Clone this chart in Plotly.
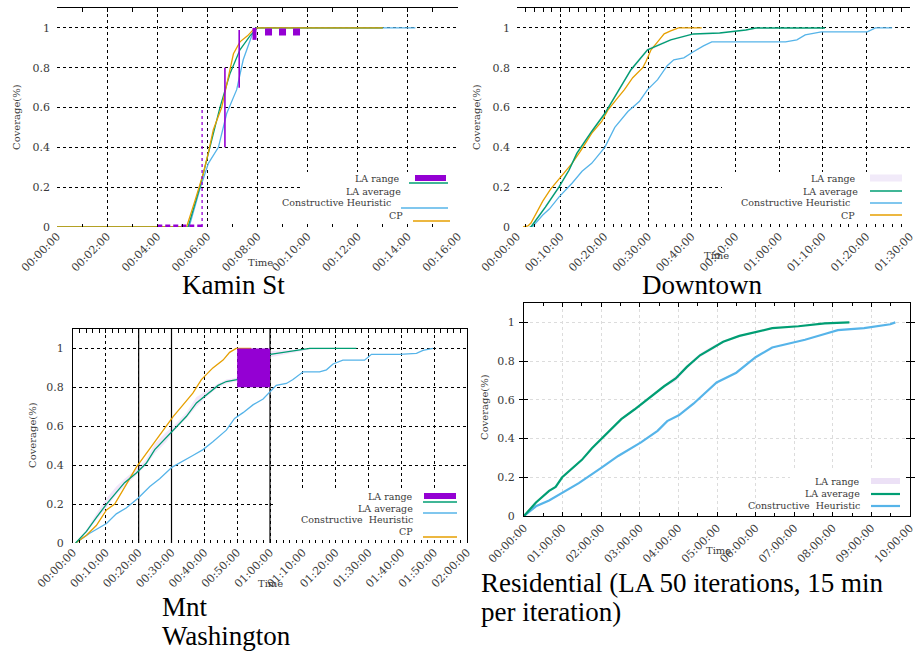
import plotly.graph_objects as go

W, H = 918, 654
FONT = "DejaVu Serif"
TFONT = "Liberation Serif"
GREEN = "#009e73"
BLUE = "#56b4e9"
ORANGE = "#e69f00"
PURPLE = "#9400d3"
BAND = "rgba(160,60,220,0.13)"
TXT = "#3a3a3a"

# ---------------- data ----------------
cov_ticks = [0, 0.2, 0.4, 0.6, 0.8, 1]
cov_labels = ["0", "0.2", "0.4", "0.6", "0.8", "1"]

# Kamin St (minutes)
ks_ticks = [0, 2, 4, 6, 8, 10, 12, 14, 16]
ks_labels = ["00:00:00", "00:02:00", "00:04:00", "00:06:00", "00:08:00",
             "00:10:00", "00:12:00", "00:14:00", "00:16:00"]
ks_cp_t = [0, 5.17, 5.5, 5.84, 6.05, 6.24, 6.57, 6.8, 7.04, 7.3, 7.6, 7.83, 8.0, 13.0]
ks_cp_y = [0, 0, 0.13, 0.27, 0.38, 0.49, 0.60, 0.73, 0.87, 0.93, 0.96, 0.99, 1.0, 1.0]
ks_la_t = [0, 5.23, 5.7, 6.1, 6.5, 6.9, 7.3, 7.7, 7.9, 8.0, 13.0]
ks_la_y = [0, 0, 0.2, 0.4, 0.6, 0.77, 0.89, 0.96, 0.99, 1.0, 1.0]
ks_ch_t = [0, 5.27, 5.7, 6.04, 6.44, 6.77, 7.17, 7.43, 7.77, 7.94, 14.3]
ks_ch_y = [0, 0, 0.19, 0.32, 0.40, 0.57, 0.69, 0.84, 0.96, 1.0, 1.0]
# LA range as rendered: dotted runs and thin vertical bars
ks_range_low_t = [4.0, 5.8]
ks_range_low_y = [0.0, 0.0]
ks_range_top_t = [8.3, 9.75]
ks_range_top_y = [0.98, 0.98]
ks_range_bar_t = [6.70, 6.70, None, 7.27, 7.27]
ks_range_bar_y = [0.40, 0.80, None, 0.70, 0.99]
ks_range_stub_t = [7.88, 7.88]
ks_range_stub_y = [0.94, 1.0]
ks_range_dash_t = [5.79, 5.79]
ks_range_dash_y = [0.0, 0.595]

# Downtown (minutes)
dt_ticks = [0, 10, 20, 30, 40, 50, 60, 70, 80, 90]
dt_labels = ["00:00:00", "00:10:00", "00:20:00", "00:30:00", "00:40:00",
             "00:50:00", "01:00:00", "01:10:00", "01:20:00", "01:30:00"]
dt_la_t = [2.9, 3.2, 6.5, 9.6, 11.9, 13.7, 17.1, 20.1, 23.1, 26.1, 29.9, 32.0, 35.2,
           40.4, 46.4, 52.4, 54.7, 70.5]
dt_la_y = [0, 0.0, 0.1, 0.2, 0.285, 0.37, 0.48, 0.57, 0.68, 0.79, 0.89, 0.91, 0.94,
           0.97, 0.975, 0.99, 1.0, 1.0]
dt_range_lo = [0, 0.0, 0.09, 0.19, 0.275, 0.36, 0.47, 0.56, 0.67, 0.78, 0.88, 0.90, 0.935,
               0.965, 0.97, 0.985, 0.995, 0.998]
dt_range_hi = [0, 0.01, 0.11, 0.21, 0.295, 0.38, 0.49, 0.58, 0.69, 0.80, 0.90, 0.92, 0.945,
               0.975, 0.98, 0.995, 1.0, 1.0]
dt_cp_t = [1.4, 2.5, 3.2, 5.9, 7.7, 9.6, 12.6, 14.5, 17.1, 19.4, 20.9, 23.1, 24.6, 26.5,
           28.8, 29.5, 30.7, 32.2, 33.7, 35.2, 37.0, 42.3]
dt_cp_y = [0, 0.005, 0.02, 0.13, 0.19, 0.24, 0.32, 0.38, 0.47, 0.53, 0.59, 0.65, 0.69,
           0.75, 0.80, 0.83, 0.89, 0.93, 0.97, 0.985, 1.0, 1.0]
dt_ch_t = [3.5, 5.9, 7.4, 9.6, 12.6, 14.9, 17.1, 20.1, 22.4, 25.4, 28.0, 29.9, 32.2, 34.4,
           35.9, 38.2, 40.4, 42.7, 44.6, 61.5, 64.1, 66.0, 69.7, 80.2, 82.1, 85.9]
dt_ch_y = [0, 0.06, 0.09, 0.15, 0.22, 0.28, 0.32, 0.40, 0.50, 0.58, 0.63, 0.69, 0.74, 0.81,
           0.84, 0.85, 0.88, 0.91, 0.93, 0.93, 0.94, 0.965, 0.98, 0.98, 1.0, 1.0]

# Mnt Washington (minutes)
mw_ticks = [0, 10, 20, 30, 40, 50, 60, 70, 80, 90, 100, 110, 120]
mw_labels = ["00:00:00", "00:10:00", "00:20:00", "00:30:00", "00:40:00", "00:50:00",
             "01:00:00", "01:10:00", "01:20:00", "01:30:00", "01:40:00", "01:50:00",
             "02:00:00"]
mw_marks = [20, 30, 60]
mw_cp_t = [0.8, 4.1, 7.1, 10.2, 12.7, 14.2, 16.2, 19.3, 22.3, 25.4, 28.4, 30.5, 33.0,
           36.5, 39.1, 42.6, 45.7, 47.7, 49.7, 54.3]
mw_cp_y = [0, 0.04, 0.09, 0.17, 0.20, 0.24, 0.30, 0.39, 0.46, 0.53, 0.60, 0.65, 0.70,
           0.77, 0.84, 0.90, 0.94, 0.98, 1.0, 1.0]
mw_la_t = [0.8, 4.1, 7.1, 10.2, 13.2, 15.7, 19.3, 22.3, 24.9, 28.4, 30.5, 34.5, 37.6,
           40.6, 44.2, 46.7, 49.9, 60.1, 64.0, 69.0, 72.1, 86.3]
mw_la_y = [0, 0.06, 0.13, 0.20, 0.26, 0.31, 0.36, 0.41, 0.48, 0.54, 0.58, 0.65, 0.72,
           0.76, 0.81, 0.83, 0.84, 0.97, 0.98, 0.99, 1.0, 1.0]
mw_range_lo = [0, 0.05, 0.12, 0.18, 0.25, 0.29, 0.35, 0.40, 0.46, 0.52, 0.57, 0.64, 0.70,
               0.75, 0.80, 0.82, 0.83, 0.955, 0.97, 0.985, 0.995, 0.998]
mw_range_hi = [0, 0.07, 0.15, 0.23, 0.29, 0.33, 0.38, 0.43, 0.51, 0.57, 0.60, 0.67, 0.75,
               0.78, 0.82, 0.84, 0.85, 0.985, 0.99, 0.995, 1.0, 1.0]
mw_block_t = [50, 60]
mw_block_y = [0.8, 1.0]
mw_ch_t = [0.8, 5.1, 10.2, 13.2, 16.2, 19.8, 23.4, 26.4, 30.2, 33.5, 36.5, 39.6, 42.6,
           46.7, 49.2, 51.8, 54.8, 57.9, 60.1, 61.9, 65.0, 67.0, 70.1, 75.1, 77.2, 79.2,
           82.2, 88.8, 90.9, 99.5, 104.6, 106.6, 109.6]
mw_ch_y = [0, 0.05, 0.10, 0.15, 0.18, 0.23, 0.29, 0.33, 0.39, 0.42, 0.45, 0.48, 0.52,
           0.58, 0.64, 0.67, 0.71, 0.74, 0.78, 0.81, 0.82, 0.84, 0.88, 0.88, 0.89, 0.92,
           0.94, 0.94, 0.97, 0.97, 0.975, 0.99, 1.0]

# Residential (hours)
rs_ticks = [0, 1, 2, 3, 4, 5, 6, 7, 8, 9, 10]
rs_labels = ["00:00:00", "01:00:00", "02:00:00", "03:00:00", "04:00:00", "05:00:00",
             "06:00:00", "07:00:00", "08:00:00", "09:00:00", "10:00:00"]
rs_la_t = [0, 0.31, 0.65, 0.82, 0.99, 1.33, 1.5, 1.76, 2.01, 2.27, 2.52, 2.86, 3.12,
           3.37, 3.63, 3.93, 4.22, 4.56, 4.9, 5.16, 5.58, 6.0, 6.43, 7.11, 7.79, 8.43]
rs_la_y = [0, 0.07, 0.13, 0.15, 0.20, 0.26, 0.29, 0.35, 0.40, 0.45, 0.50, 0.55, 0.59,
           0.63, 0.67, 0.71, 0.77, 0.83, 0.87, 0.90, 0.93, 0.95, 0.97, 0.98, 0.995, 1.0]
rs_range_lo = [0, 0.065, 0.125, 0.145, 0.195, 0.255, 0.285, 0.345, 0.395, 0.445, 0.495,
               0.545, 0.585, 0.625, 0.665, 0.695, 0.76, 0.82, 0.86, 0.895, 0.925, 0.947,
               0.968, 0.978, 0.994, 1.0]
rs_range_hi = [0, 0.075, 0.135, 0.155, 0.205, 0.265, 0.295, 0.355, 0.405, 0.455, 0.505,
               0.555, 0.595, 0.635, 0.675, 0.725, 0.78, 0.84, 0.88, 0.905, 0.935, 0.953,
               0.972, 0.982, 0.996, 1.0]
rs_ch_t = [0, 0.31, 0.65, 0.99, 1.42, 2.01, 2.44, 3.03, 3.46, 3.71, 4.01, 4.39, 4.73,
           4.99, 5.5, 6.0, 6.43, 6.86, 7.28, 7.79, 8.13, 8.81, 9.49, 9.62]
rs_ch_y = [0, 0.05, 0.08, 0.12, 0.17, 0.25, 0.31, 0.38, 0.44, 0.49, 0.52, 0.58, 0.64,
           0.69, 0.74, 0.82, 0.87, 0.89, 0.91, 0.94, 0.96, 0.97, 0.99, 1.0]

# ---------------- geometry (pixels) ----------------
PANELS = {
    1: dict(x0=57, x1=458, yt=8, yb=227, rng=[0, 16]),
    2: dict(x0=517, x1=910, yt=8, yb=227, rng=[0, 90]),
    3: dict(x0=73, x1=467, yt=329, yb=543, rng=[0, 120]),
    4: dict(x0=524, x1=910, yt=303, yb=516, rng=[0, 10]),
}
YR = [0, 1.1]


def fx(p):
    return p / W


def fy(p):
    return 1 - p / H


def ax_names(i):
    return ("x" if i == 1 else f"x{i}"), ("y" if i == 1 else f"y{i}")


def px_to_data(i, px, py):
    p = PANELS[i]
    xv = p["rng"][0] + (px - p["x0"]) / (p["x1"] - p["x0"]) * (p["rng"][1] - p["rng"][0])
    yv = YR[0] + (p["yb"] - py) / (p["yb"] - p["yt"]) * (YR[1] - YR[0])
    return xv, yv


fig = go.Figure()


def line(i, t, y, color, width=1.3, dash=None):
    xa, ya = ax_names(i)
    fig.add_trace(go.Scatter(x=t, y=y, xaxis=xa, yaxis=ya, mode="lines",
                             line=dict(color=color, width=width, dash=dash),
                             showlegend=False, hoverinfo="skip"))


def band(i, t, lo, hi, color):
    xa, ya = ax_names(i)
    fig.add_trace(go.Scatter(x=list(t) + list(t)[::-1], y=list(hi) + list(lo)[::-1],
                             xaxis=xa, yaxis=ya, mode="lines", fill="toself",
                             fillcolor=color, line=dict(width=0),
                             showlegend=False, hoverinfo="skip"))


# Kamin St
line(1, ks_ch_t, ks_ch_y, BLUE)
line(1, ks_la_t, ks_la_y, GREEN)
line(1, ks_cp_t, ks_cp_y, ORANGE)
line(1, ks_range_low_t, ks_range_low_y, PURPLE, 5, "5px,3px")
line(1, ks_range_dash_t, ks_range_dash_y, PURPLE, 1.3, "3px,3px")
line(1, ks_range_bar_t, ks_range_bar_y, PURPLE, 1.6)
line(1, ks_range_stub_t, ks_range_stub_y, PURPLE, 4)
line(1, ks_range_top_t, ks_range_top_y, PURPLE, 7, "7px,7px")

# Downtown
band(2, dt_la_t, dt_range_lo, dt_range_hi, "rgba(160,60,220,0.07)")
line(2, dt_ch_t, dt_ch_y, BLUE)
line(2, dt_cp_t, dt_cp_y, ORANGE)
line(2, dt_la_t, dt_la_y, GREEN, 1.5)

# Mnt Washington
band(3, mw_la_t, mw_range_lo, mw_range_hi, BAND)
line(3, mw_ch_t, mw_ch_y, BLUE)
line(3, mw_cp_t, mw_cp_y, ORANGE)
line(3, mw_la_t, mw_la_y, GREEN)
xa, ya = ax_names(3)
bx = [mw_block_t[0], mw_block_t[1], mw_block_t[1], mw_block_t[0], mw_block_t[0]]
by = [mw_block_y[0], mw_block_y[0], mw_block_y[1], mw_block_y[1], mw_block_y[0]]
fig.add_trace(go.Scatter(x=bx, y=by, xaxis=xa, yaxis=ya, mode="lines", fill="toself",
                         fillcolor=PURPLE, line=dict(width=0, color=PURPLE),
                         showlegend=False, hoverinfo="skip"))

# Residential
band(4, rs_la_t, rs_range_lo, rs_range_hi, "rgba(160,60,220,0.10)")
line(4, rs_ch_t, rs_ch_y, BLUE, 2.2)
line(4, rs_la_t, rs_la_y, GREEN, 2.2)

# ---------------- axes ----------------
layout = {}
tick_sets = {1: (ks_ticks, ks_labels, 1), 2: (dt_ticks, dt_labels, 2),
             3: (mw_ticks, mw_labels, 2), 4: (rs_ticks, rs_labels, 0.5)}
tickfont = dict(family=FONT, size=11, color=TXT)
for i, p in PANELS.items():
    tv, tt, mdt = tick_sets[i]
    xkey = "xaxis" if i == 1 else f"xaxis{i}"
    ykey = "yaxis" if i == 1 else f"yaxis{i}"
    xa, ya = ax_names(i)
    boxed = (i == 4)
    gcol = "#dcdcdc" if boxed else "black"
    gdash = "dot" if boxed else "3px,3px"
    layout[xkey] = dict(
        domain=[fx(p["x0"]), fx(p["x1"])], range=p["rng"], anchor=ya, automargin=False,
        tickmode="array", tickvals=tv, ticktext=tt, tickangle=-45,
        ticklabeloverflow="allow",
        tickfont=tickfont, showgrid=True, gridcolor=gcol, griddash=gdash, gridwidth=1,
        zeroline=False, showline=boxed, linecolor="black", linewidth=1.2,
        mirror="allticks" if boxed else False,
        ticks="inside", ticklen=4 if boxed else 0.01, tickcolor="black",
        minor=dict(dtick=mdt, tick0=0, ticks="inside", ticklen=3, tickcolor="black",
                   showgrid=False),
        fixedrange=True,
    )
    layout[ykey] = dict(
        domain=[fy(p["yb"]), fy(p["yt"])], range=YR, anchor=xa, automargin=False,
        tickmode="array", tickvals=cov_ticks, ticktext=cov_labels,
        tickfont=tickfont, showgrid=True, gridcolor=gcol, griddash=gdash, gridwidth=1,
        zeroline=False, showline=(i in (3, 4)), linecolor="black", linewidth=1.2,
        mirror="allticks" if boxed else (True if i == 3 else False),
        ticks="inside" if boxed else "", ticklen=4, tickcolor="black",
        ticklabelstandoff=6, fixedrange=True,
    )
    # top axis carrying the mirrored minor ticks and the top border
    tkey = f"xaxis{i + 4}"
    layout[tkey] = dict(
        domain=[fx(p["x0"]), fx(p["x1"])], range=p["rng"], anchor=ya, overlaying=xa,
        automargin=False,
        side="top", showgrid=False, zeroline=False, showticklabels=False,
        showline=True, linecolor="black", linewidth=1.3,
        tickmode="array", tickvals=tv, ticks="inside", ticklen=4 if boxed else 0.01,
        tickcolor="black",
        minor=dict(dtick=mdt, tick0=0, ticks="inside", ticklen=3 if boxed else 4,
                   tickcolor="black", showgrid=False),
        fixedrange=True,
    )
    # an invisible trace so the top axis is drawn
    fig.add_trace(go.Scatter(x=[p["rng"][0]], y=[0], xaxis=f"x{i + 4}", yaxis=ya,
                             mode="markers", marker=dict(size=0.1, opacity=0),
                             showlegend=False, hoverinfo="skip"))

shapes = []
annotations = []

# solid vertical marks in Mnt Washington
for m in mw_marks:
    shapes.append(dict(type="line", xref="x3", yref="y3", x0=m, x1=m, y0=YR[0], y1=YR[1],
                       layer="between", line=dict(color="black", width=1.2)))

# legend boxes (white, hiding grid)
legend_boxes = {1: (302, 459, 172, 225), 2: (722, 910, 172, 225),
                3: (273, 466, 490, 541), 4: (790, 909, 470, 513)}
for i, (a, b, c, d) in legend_boxes.items():
    xa, ya = ax_names(i)
    X0, Y0 = px_to_data(i, a, d)
    X1, Y1 = px_to_data(i, b, c)
    shapes.append(dict(type="rect", xref=xa, yref=ya, x0=X0, x1=X1, y0=Y0, y1=Y1,
                       layer="between", fillcolor="white", line=dict(width=0)))


def legend_item(text, tx, ty, kind, color, sx0, sx1, sy, thick=6):
    annotations.append(dict(text=text, x=fx(tx), y=fy(ty), xref="paper", yref="paper",
                            xanchor="right", yanchor="middle", showarrow=False,
                            font=dict(family=FONT, size=9.5, color=TXT)))
    if kind == "rect":
        shapes.append(dict(type="rect", xref="paper", yref="paper",
                           x0=fx(sx0), x1=fx(sx1), y0=fy(sy + thick / 2), y1=fy(sy - thick / 2),
                           fillcolor=color, line=dict(width=0)))
    else:
        shapes.append(dict(type="line", xref="paper", yref="paper",
                           x0=fx(sx0), x1=fx(sx1), y0=fy(sy), y1=fy(sy),
                           line=dict(color=color, width=1.5 if kind == "line" else 2.2)))


# Kamin St legend
legend_item("LA range", 402, 178, "rect", PURPLE, 415, 446, 178, 6)
legend_item("LA average", 403, 191, "line", GREEN, 409, 448, 183)
legend_item("Constructive Heuristic", 393, 203, "line", BLUE, 401, 448, 208)
legend_item("CP", 405, 215, "line", ORANGE, 413, 450, 221)
# Downtown legend
legend_item("LA range", 858, 178, "rect", "rgba(200,170,230,0.25)", 870, 902, 178, 7)
legend_item("LA average", 860, 191, "line", GREEN, 870, 902, 191)
legend_item("Constructive Heuristic", 852, 203, "line", BLUE, 870, 902, 203)
legend_item("CP", 857, 215, "line", ORANGE, 870, 902, 215)
# Mnt Washington legend
legend_item("LA range", 415, 496, "rect", PURPLE, 424, 456, 496, 6)
legend_item("LA average", 415, 508, "line", GREEN, 423, 457, 502)
legend_item("Constructive  Heuristic", 415, 519, "line", BLUE, 423, 457, 513)
legend_item("CP", 415, 531, "line", ORANGE, 423, 457, 537)
# Residential legend
legend_item("LA range", 862, 481, "rect", "rgba(200,170,230,0.35)", 871, 900, 481, 6)
legend_item("LA average", 862, 493, "thick", GREEN, 871, 900, 494)
legend_item("Constructive  Heuristic", 862, 506, "thick", BLUE, 871, 900, 506)

# axis titles
for (tx, ty) in [(260, 262), (716, 256), (270, 583), (718, 550)]:
    annotations.append(dict(text="Time", x=fx(tx), y=fy(ty), xref="paper", yref="paper",
                            xanchor="center", yanchor="middle", showarrow=False,
                            font=dict(family=FONT, size=10, color=TXT)))
for (tx, ty) in [(16, 117), (476, 117), (32, 435), (484, 407)]:
    annotations.append(dict(text="Coverage(%)", x=fx(tx), y=fy(ty), xref="paper",
                            yref="paper", xanchor="center", yanchor="middle",
                            textangle=-90, showarrow=False,
                            font=dict(family=FONT, size=10, color=TXT)))

# panel captions
caps = [("Kamin St", 233, 285, "center"), ("Downtown", 702, 285, "center"),
        ("Mnt", 160, 607, "left"), ("Washington", 160, 636, "left"),
        ("Residential (LA 50 iterations, 15 min", 479, 583, "left"),
        ("per iteration)", 479, 612, "left")]
for text, tx, ty, anc in caps:
    annotations.append(dict(text=text, x=fx(tx), y=fy(ty), xref="paper", yref="paper",
                            xanchor=anc, yanchor="middle", showarrow=False,
                            font=dict(family=TFONT, size=27, color="black")))

fig.update_layout(
    width=W, height=H, margin=dict(l=0, r=0, t=0, b=0),
    paper_bgcolor="white", plot_bgcolor="white",
    shapes=shapes, annotations=annotations, showlegend=False,
    **layout,
)

fig.write_html("out.html")
